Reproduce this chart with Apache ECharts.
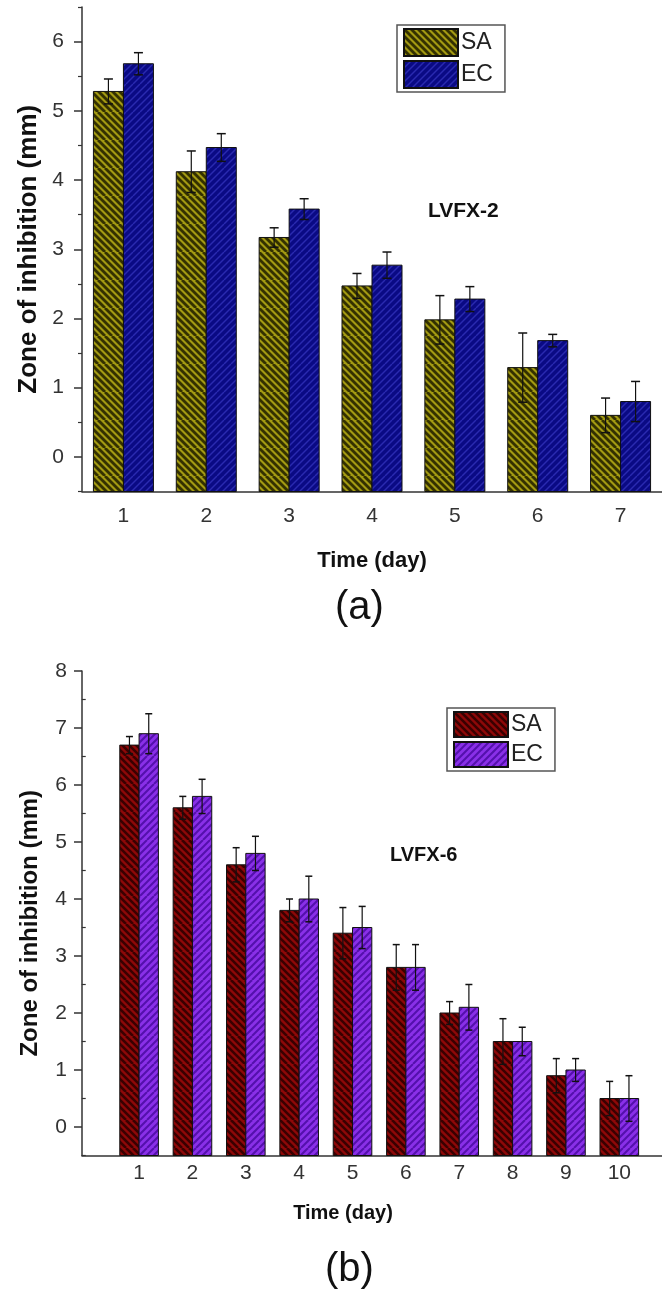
<!DOCTYPE html>
<html><head><meta charset="utf-8">
<script src="https://cdn.jsdelivr.net/npm/echarts@6/dist/echarts.min.js"></script>
<style>html,body{margin:0;padding:0;background:#fff}#c{width:662px;height:1299px}</style>
</head><body><div id="c"></div>
<script>
// ---- data: panel (a) LVFX-2 ----
const daysA = ['1','2','3','4','5','6','7'];
const saA    = [5.28, 4.12, 3.17, 2.47, 1.98, 1.29, 0.60];
const saAErr = [0.18, 0.30, 0.14, 0.18, 0.35, 0.50, 0.25];
const ecA    = [5.68, 4.47, 3.58, 2.77, 2.28, 1.68, 0.80];
const ecAErr = [0.16, 0.20, 0.15, 0.19, 0.18, 0.09, 0.29];
const yTicksA = [0, 1, 2, 3, 4, 5, 6];
// ---- data: panel (b) LVFX-6 ----
const daysB = [1, 2, 3, 4, 5, 6, 7, 8, 9, 10];
const saB    = [6.70, 5.60, 4.60, 3.80, 3.40, 2.80, 2.00, 1.50, 0.90, 0.50];
const saBErr = [0.15, 0.20, 0.30, 0.20, 0.45, 0.40, 0.20, 0.40, 0.30, 0.30];
const ecB    = [6.90, 5.80, 4.80, 4.00, 3.50, 2.80, 2.10, 1.50, 1.00, 0.50];
const ecBErr = [0.35, 0.30, 0.30, 0.40, 0.37, 0.40, 0.40, 0.25, 0.20, 0.40];
const yTicksB = [0, 1, 2, 3, 4, 5, 6, 7, 8];
const seriesNames = ['SA', 'EC'];

const FONT = '"Liberation Sans", Arial, sans-serif';

function hatch(bg, fg, dir, period, lw) {
  const s = period * 4;
  const c = document.createElement('canvas');
  c.width = c.height = s;
  const g = c.getContext('2d');
  g.fillStyle = bg; g.fillRect(0, 0, s, s);
  g.strokeStyle = fg; g.lineWidth = lw;
  for (let k = -2 * s; k <= 2 * s; k += period) {
    g.beginPath();
    if (dir > 0) { g.moveTo(k, s); g.lineTo(k + s, 0); }
    else { g.moveTo(k, 0); g.lineTo(k + s, s); }
    g.stroke();
  }
  return { image: c, repeat: 'repeat' };
}
const patSA_a = hatch('#a39a12', '#343100', -1, 7, 2.8);
const patEC_a = hatch('#0a0a84', '#2a2ab0', 1, 7, 1.4);
const patSA_b = hatch('#8e0808', '#3a0000', -1, 7, 2.6);
const patEC_b = hatch('#8a30e8', '#5410ac', 1, 7, 2.0);

function barSeries(name, gi, xs, vals, errs, pattern, side, bw, cap, ymin) {
  return {
    type: 'custom', name: name, xAxisIndex: gi, yAxisIndex: gi * 2,
    itemStyle: { color: pattern, borderColor: '#111', borderWidth: 1 },
    data: xs.map((x, i) => [x, vals[i], errs[i]]),
    renderItem: function (params, api) {
      const x = api.value(0), v = api.value(1), e = api.value(2);
      const top = api.coord([x, v]);
      const base = api.coord([x, ymin]);
      const hi = api.coord([x, v + e]);
      const lo = api.coord([x, v - e]);
      const cx = top[0] + side * bw / 2;
      return { type: 'group', children: [
        { type: 'rect', shape: { x: cx - bw / 2, y: top[1], width: bw, height: base[1] - top[1] },
          style: { fill: pattern, stroke: '#111', lineWidth: 1 } },
        { type: 'line', shape: { x1: cx, y1: hi[1], x2: cx, y2: lo[1] }, style: { stroke: '#111', lineWidth: 1.2 } },
        { type: 'line', shape: { x1: cx - cap, y1: hi[1], x2: cx + cap, y2: hi[1] }, style: { stroke: '#111', lineWidth: 1.5 } },
        { type: 'line', shape: { x1: cx - cap, y1: lo[1], x2: cx + cap, y2: lo[1] }, style: { stroke: '#111', lineWidth: 1.5 } }
      ] };
    }
  };
}

const axisLine = { onZero: false, lineStyle: { color: '#333', width: 1.5 } };
const lblStyle = { fontFamily: FONT, fontSize: 21, color: '#333' };

function yAxes(gi, ticks, ymin, ymax, margin, nameSize, nameGap, namePad) {
  return [
    { type: 'value', gridIndex: gi, position: 'left', min: ymin, max: ymax, interval: 0.5,
      axisLine: Object.assign({ show: true }, axisLine),
      axisTick: { show: true, inside: false, length: 8, customValues: ticks, lineStyle: { color: '#333', width: 1.5 } },
      axisLabel: Object.assign({ customValues: ticks, margin: margin }, lblStyle),
      splitLine: { show: false },
      name: 'Zone of inhibition (mm)', nameLocation: 'middle', nameGap: nameGap,
      nameTextStyle: { fontFamily: FONT, fontWeight: 'bold', fontSize: nameSize, color: '#111', padding: namePad } },
    { type: 'value', gridIndex: gi, position: 'left', min: ymin, max: ymax, interval: 0.5,
      axisLine: { show: false },
      axisTick: { show: true, length: 4, customValues: [ymin].concat(ticks.map(t => t + 0.5)), lineStyle: { color: '#333', width: 1.2 } },
      axisLabel: { show: false }, splitLine: { show: false } }
  ];
}

const chart = echarts.init(document.getElementById('c'), null, { renderer: 'canvas' });
chart.setOption({
  backgroundColor: '#fff',
  animation: false,
  grid: [
    { left: 82, right: -3, top: 7, height: 484.5 },
    { left: 82, right: -0.5, top: 671, height: 484.5 }
  ],
  xAxis: [
    { type: 'category', gridIndex: 0, data: daysA, boundaryGap: true,
      axisLine: axisLine,
      axisTick: { alignWithLabel: true, length: 8, lineStyle: { color: '#333', width: 1.5 } },
      axisLabel: Object.assign({ margin: 14 }, lblStyle),
      name: 'Time (day)', nameLocation: 'middle', nameGap: 58,
      nameTextStyle: { fontFamily: FONT, fontWeight: 'bold', fontSize: 22, color: '#111' } },
    { type: 'value', gridIndex: 1, min: -0.07, max: 10.8,
      axisLine: axisLine,
      axisTick: { show: false },
      axisLabel: Object.assign({ customValues: daysB, margin: 7 }, lblStyle),
      splitLine: { show: false },
      name: 'Time (day)', nameLocation: 'middle', nameGap: 48,
      nameTextStyle: { fontFamily: FONT, fontWeight: 'bold', fontSize: 20, color: '#111', padding: [0, 58, 0, 0] } }
  ],
  yAxis: yAxes(0, yTicksA, -0.5, 6.5, 18, 26, 40, 0).concat(yAxes(1, yTicksB, -0.5, 8, 15, 24, 40, [0, 20, 0, 0])),
  legend: [
    { data: ['SA-a', 'EC-a'], formatter: n => n.split('-')[0], orient: 'vertical', left: 397, top: 25,
      icon: 'rect', itemWidth: 54, itemHeight: 27, itemGap: 3, padding: [3, 12, 3, 6],
      borderColor: '#555', borderWidth: 1.5, selectedMode: false,
      textStyle: { fontFamily: FONT, fontSize: 23, color: '#222', padding: [0, 0, 0, -2] } },
    { data: ['SA-b', 'EC-b'], formatter: n => n.split('-')[0], orient: 'vertical', left: 447, top: 708,
      icon: 'rect', itemWidth: 54, itemHeight: 25, itemGap: 3, padding: [3, 12, 3, 6],
      borderColor: '#555', borderWidth: 1.5, selectedMode: false,
      textStyle: { fontFamily: FONT, fontSize: 23, color: '#222', padding: [0, 0, 0, -2] } }
  ],
  graphic: [
    { type: 'text', left: 428, top: 201, style: { text: 'LVFX-2', font: 'bold 21px ' + FONT, fill: '#111' } },
    { type: 'text', left: 390, top: 845, style: { text: 'LVFX-6', font: 'bold 20px ' + FONT, fill: '#111' } },
    { type: 'text', left: 335, top: 588, style: { text: '(a)', font: '40px ' + FONT, fill: '#111' } },
    { type: 'text', left: 325, top: 1250, style: { text: '(b)', font: '40px ' + FONT, fill: '#111' } }
  ],
  series: [
    barSeries(seriesNames[0] + '-a', 0, daysA.map((d, i) => i), saA, saAErr, patSA_a, -1, 30, 4.5, -0.5),
    barSeries(seriesNames[1] + '-a', 0, daysA.map((d, i) => i), ecA, ecAErr, patEC_a, 1, 30, 4.5, -0.5),
    barSeries(seriesNames[0] + '-b', 1, daysB, saB, saBErr, patSA_b, -1, 19.3, 3.5, -0.5),
    barSeries(seriesNames[1] + '-b', 1, daysB, ecB, ecBErr, patEC_b, 1, 19.3, 3.5, -0.5)
  ]
});
</script>
</body></html>
